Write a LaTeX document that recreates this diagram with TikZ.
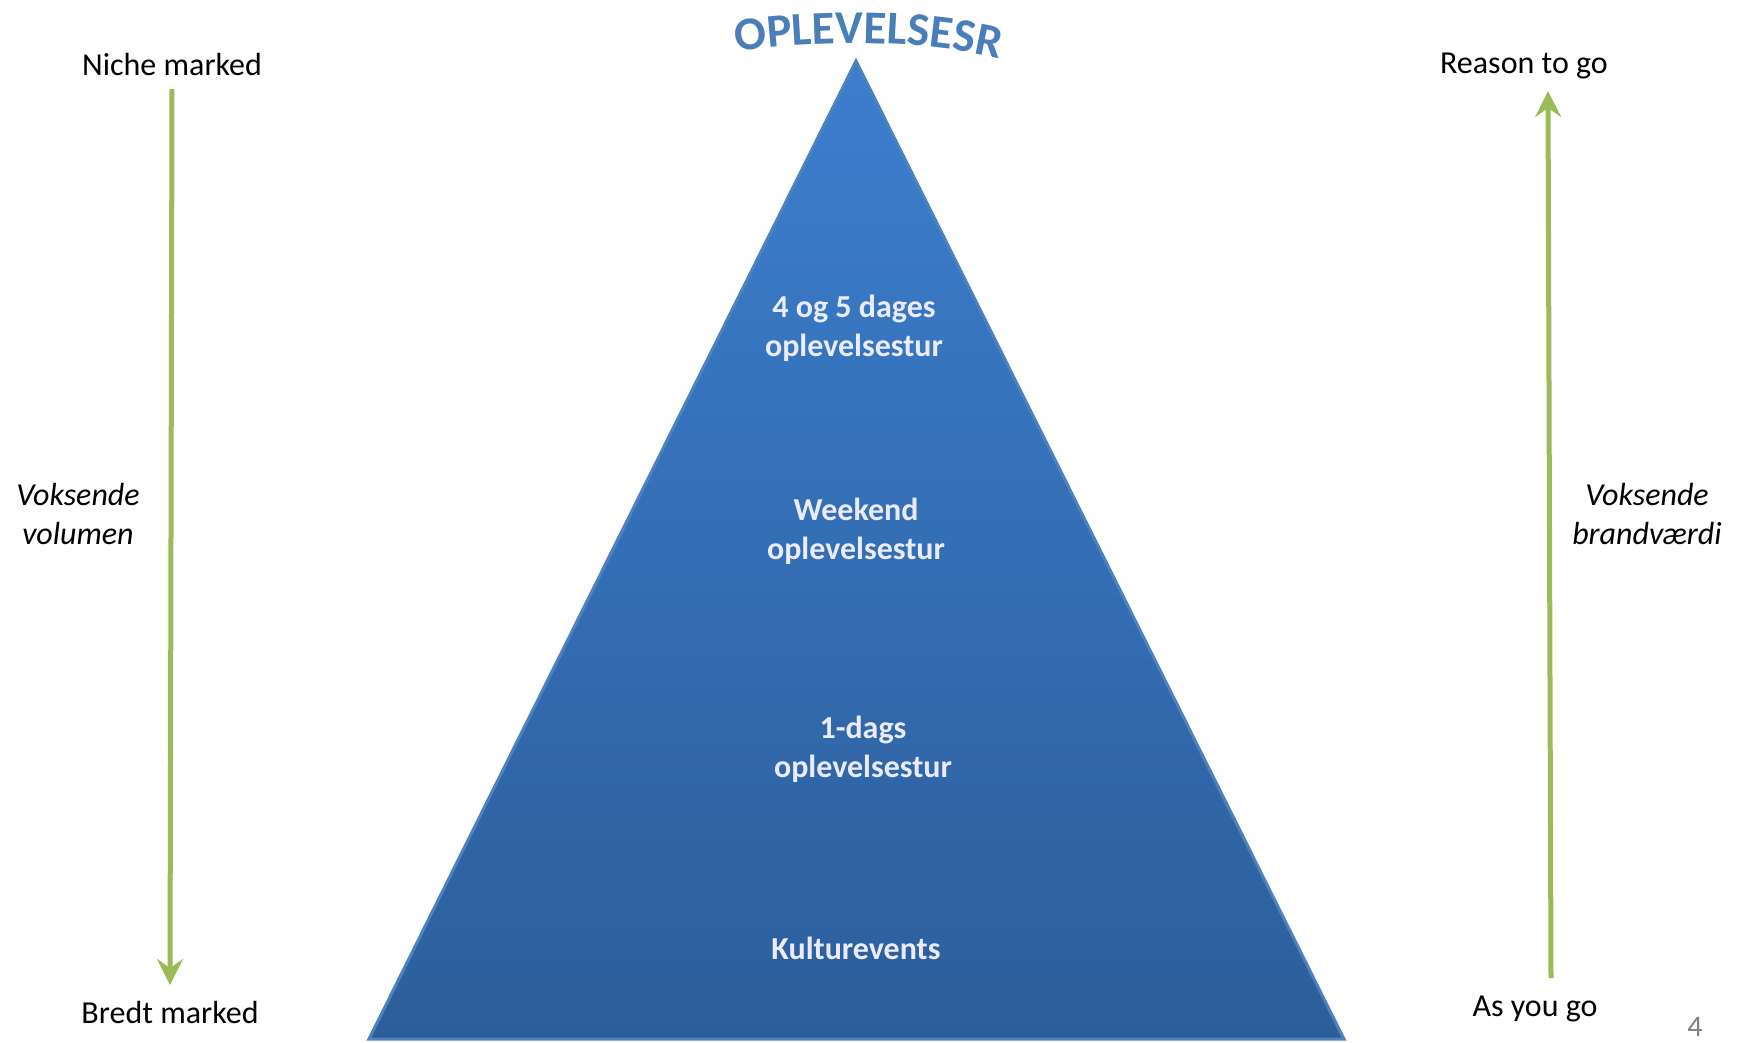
\documentclass[tikz,border=0pt]{standalone}
\usepackage{fontspec}
\setmainfont{Carlito}
\usetikzlibrary{arrows.meta,decorations.text}
\definecolor{arrowgreen}{RGB}{155,187,89}
\definecolor{topblue}{RGB}{60,126,206}
\definecolor{botblue}{RGB}{44,94,154}
\definecolor{edgeblue}{RGB}{79,129,189}
\definecolor{titleblue}{RGB}{74,126,187}
\definecolor{pagegray}{RGB}{128,128,128}
\begin{document}
\begin{tikzpicture}[x=1pt,y=-1pt,
  lbl/.style={font=\fontsize{32}{39}\selectfont, text=black, align=center, inner sep=0pt},
  ital/.style={font=\fontsize{32}{39}\selectfont\itshape, text=black, align=center, inner sep=0pt},
  level/.style={font=\fontsize{32}{39}\selectfont\bfseries, text=white!92!blue, align=center, inner sep=0pt},
  grarrow/.style={draw=arrowgreen, line width=5pt, -{Stealth[length=26pt,width=26pt,inset=9pt]}}
]
\useasboundingbox (0,0) rectangle (1737,1042);
% pyramid
\coordinate (apex) at (856,61);
\coordinate (bl) at (369,1039);
\coordinate (br) at (1344,1039);
\shade[top color=topblue, bottom color=botblue] (apex) -- (br) -- (bl) -- cycle;
\draw[edgeblue, line width=3pt, line join=miter] (apex) -- (br) -- (bl) -- cycle;
% title
\path[decorate, decoration={text along path, text align=center,
  text={|\fontsize{47}{47}\selectfont\bfseries\color{titleblue}|OPLEVELSESR}}]
  (715,55) .. controls (810,38) and (930,38) .. (1020,64);
% level labels
\node[level] (l4) at (854,328) {4 og 5 dages\\oplevelsestur};
\node[level] (lw) at (856,531) {Weekend\\oplevelsestur};
\node[level] (l1) at (863,749) {1-dags\\oplevelsestur};
\node[level] (lk) at (856,948) {Kulturevents};
% side labels
\node[lbl] (niche) at (172,65) {Niche marked};
\node[lbl] (bredt) at (170,1012) {Bredt marked};
\node[ital] (vol) at (78,514) {Voksende\\volumen};
\node[lbl] (reason) at (1524,66) {Reason to go};
\node[lbl] (asyou) at (1535,1009) {As you go};
\node[ital] (brand) at (1647,514) {Voksende\\brandværdi};
\node[font=\fontsize{30}{30}\selectfont, text=pagegray, inner sep=0pt] (pnum) at (1695,1027) {4};
% arrows
\coordinate (la) at (172,89);
\coordinate (lb) at (170,985);
\coordinate (ra) at (1551,978);
\coordinate (rb) at (1548,91);
\draw[grarrow] (la) -- (lb);
\draw[grarrow] (ra) -- (rb);
\end{tikzpicture}
\end{document}
